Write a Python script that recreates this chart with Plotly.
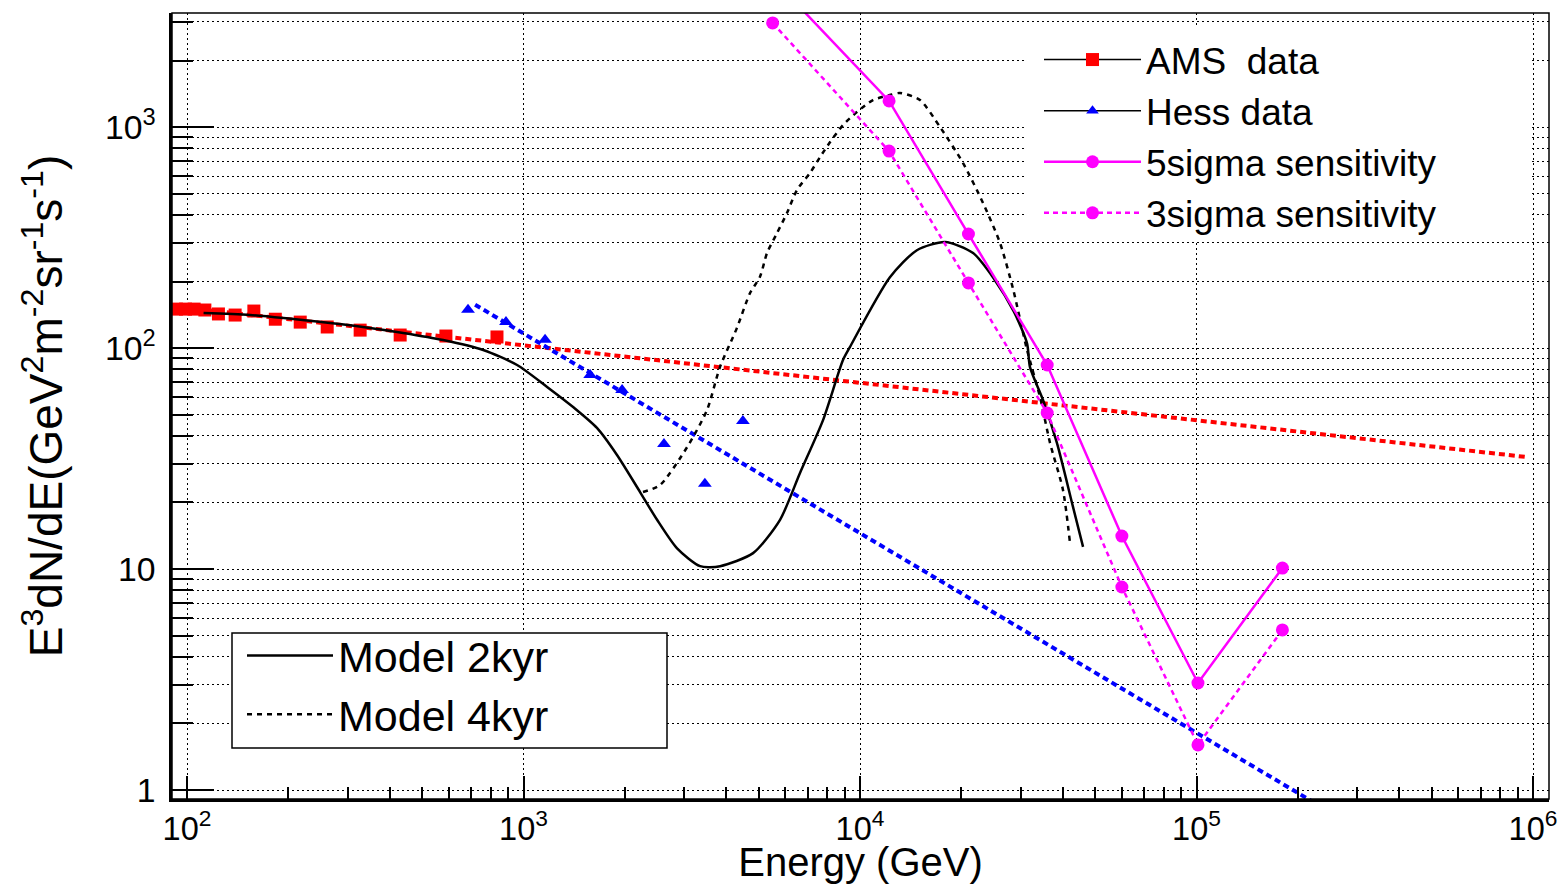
import plotly.graph_objects as go

# ---------------- data ----------------
ams_E = [93, 99, 105, 113, 124, 139, 158, 183, 217, 261, 327, 430, 588, 834]
ams_v = [150, 150, 150, 148.6, 142.6, 141, 147, 135, 131, 124.5, 120.5, 114.5, 113.3, 112.2]

hess_E = [684, 887, 1159, 1578, 1963, 2615, 3459, 4487]
hess_v = [149, 131, 109, 75.5, 64.6, 36.8, 24.3, 46.8]

ams_fit_E = [100, 9.6e5]
ams_fit_v = [152, 32.1]

hess_fit_E = [718, 2.3e5]
hess_fit_v = [157, 0.855]

model2_E = [112, 154, 266, 333, 439, 577, 759, 957, 1175, 1404, 1653, 1896, 2220, 2494,
            2860, 3348, 3840, 4811, 5785, 6632, 7765, 8900, 9330, 12270, 14760,
            17900, 21680, 25000, 28690, 31360, 32000, 34980, 38470, 42950, 46010]
model2_v = [143.9, 141, 129.7, 124.5, 117, 108.7, 98, 83.8, 66.7, 54.1, 43.5, 32.8, 22.3, 16.7,
            12.4, 10.3, 10.3, 11.8, 16.7, 27.2, 47.2, 88.3, 101, 209, 277,
            302, 269, 206, 145.6, 105, 82, 58.2, 37.2, 19.1, 12.6]

model4_E = [2265, 2546, 3063, 3510, 3835, 4305, 4709, 5043, 5292, 5666, 6066, 6497, 7104,
            7606, 8150, 8900, 9790, 10930, 12270, 13140, 15070, 17290, 20240, 23210, 26080,
            28500, 31360, 34270, 36700, 40100, 42080]
model4_v = [22.3, 24, 35.6, 52.4, 82, 123, 177, 210, 269, 331, 408, 519, 620,
            731, 855, 1021, 1169, 1325, 1396, 1426, 1325, 1000, 687, 453, 298,
            185, 98, 60, 37.2, 22.8, 13.1]

sens_E = [5500, 12200, 21000, 36000, 60000, 101000, 180000]
sens5_v = [4700, 1312, 328, 83.8, 14.1, 3.05, 10.1]
sens3_v = [2958, 778, 197, 50.8, 8.29, 1.60, 5.30]

legend_names = ["AMS  data", "Hess data", "5sigma sensitivity", "3sigma sensitivity",
                "Model 2kyr", "Model 4kyr"]
x_title = "Energy (GeV)"
y_title = "E<sup>3</sup>dN/dE(GeV<sup>2</sup>m<sup>-2</sup>sr<sup>-1</sup>s<sup>-1</sup>)"

# ---------------- figure ----------------
RED = "#ff0000"
BLUE = "#0000ff"
MAG = "#ff00ff"
FONT = "Liberation Sans, Arial, Helvetica, sans-serif"

fig = go.Figure()

fig.add_trace(go.Scatter(x=ams_fit_E, y=ams_fit_v, mode="lines",
                         line=dict(color=RED, width=4, dash="6px,4px"), showlegend=False))
fig.add_trace(go.Scatter(x=hess_fit_E, y=hess_fit_v, mode="lines",
                         line=dict(color=BLUE, width=4, dash="6px,4px"), showlegend=False))
fig.add_trace(go.Scatter(x=ams_E, y=ams_v, mode="markers",
                         marker=dict(symbol="square", color=RED, size=13), showlegend=False))
fig.add_trace(go.Scatter(x=hess_E, y=hess_v, mode="markers",
                         marker=dict(symbol="triangle-up", color=BLUE, size=12), showlegend=False))

# legend proxies (black line + coloured marker, as in the reference legend)
fig.add_trace(go.Scatter(x=[None], y=[None], mode="lines+markers", name=legend_names[0],
                         line=dict(color="black", width=1.5),
                         marker=dict(symbol="square", color=RED, size=13), legend="legend"))
fig.add_trace(go.Scatter(x=[None], y=[None], mode="lines+markers", name=legend_names[1],
                         line=dict(color="black", width=1.5),
                         marker=dict(symbol="triangle-up", color=BLUE, size=11), legend="legend"))

fig.add_trace(go.Scatter(x=model2_E, y=model2_v, mode="lines", name=legend_names[4],
                         line=dict(color="black", width=2.5, shape="spline", smoothing=0.7),
                         legend="legend2"))
fig.add_trace(go.Scatter(x=model4_E, y=model4_v, mode="lines", name=legend_names[5],
                         line=dict(color="black", width=2.5, dash="5px,5px", shape="spline",
                                   smoothing=0.7),
                         legend="legend2"))

fig.add_trace(go.Scatter(x=sens_E, y=sens5_v, mode="lines+markers", name=legend_names[2],
                         line=dict(color=MAG, width=2.5),
                         marker=dict(symbol="circle", color=MAG, size=13), legend="legend"))
fig.add_trace(go.Scatter(x=sens_E, y=sens3_v, mode="lines+markers", name=legend_names[3],
                         line=dict(color=MAG, width=2.5, dash="5px,4px"),
                         marker=dict(symbol="circle", color=MAG, size=13), legend="legend"))

grid = dict(gridcolor="#000000", gridwidth=1, griddash="2px,3px")

fig.update_xaxes(
    type="log", range=[1.9554, 6.0475], dtick=1, exponentformat="power",
    showline=True, linecolor="black", linewidth=3,
    ticks="inside", ticklen=23, tickwidth=2, tickcolor="black",
    ticklabelstandoff=0, ticklabeloverflow="allow",
    tickfont=dict(size=26, color="black", family=FONT),
    showgrid=True, **grid,
    minor=dict(dtick="D1", ticks="inside", ticklen=12, tickwidth=1.5, tickcolor="black",
               showgrid=False),
    title=dict(text=x_title, font=dict(size=40, color="black", family=FONT), standoff=11),
    zeroline=False,
)
fig.update_yaxes(
    type="log", range=[-0.0407, 3.516], dtick=1, exponentformat="power",
    showline=True, linecolor="black", linewidth=3,
    ticks="inside", ticklen=42, tickwidth=2, tickcolor="black",
    ticklabelstandoff=8,
    tickfont=dict(size=27, color="black", family=FONT),
    showgrid=True, **grid,
    minor=dict(dtick="D1", ticks="inside", ticklen=21, tickwidth=1.5, tickcolor="black",
               showgrid=True, gridcolor="#000000", gridwidth=1, griddash="2px,3px"),
    title=dict(text=y_title, font=dict(size=46, color="black", family=FONT), standoff=28),
    zeroline=False,
)

PX_L, PX_T, PLOT_W, PLOT_H = 172, 13, 1377, 786


def px_x(px):
    return (px - PX_L) / PLOT_W


def px_y(py):
    return 1 - (py - PX_T) / PLOT_H


fig.update_layout(
    width=1558, height=884,
    margin=dict(l=172, r=9, t=13, b=85, autoexpand=False),
    paper_bgcolor="white", plot_bgcolor="white",
    font=dict(family=FONT, color="black"),
    legend=dict(x=px_x(1039), y=px_y(29), xanchor="left", yanchor="top",
                bgcolor="rgba(0,0,0,0)", borderwidth=0, itemwidth=97,
                font=dict(size=37, family=FONT, color="black"),
                traceorder="normal"),
    legend2=dict(x=px_x(242), y=px_y(621), xanchor="left", yanchor="top",
                 bgcolor="rgba(0,0,0,0)", borderwidth=0, itemwidth=86,
                 font=dict(size=43, family=FONT, color="black")),
    shapes=[
        # white area behind the upper legend
        dict(type="rect", xref="paper", yref="paper",
             x0=px_x(1025), x1=px_x(1532), y0=px_y(240), y1=px_y(26),
             fillcolor="white", line=dict(width=0), layer="above"),
        # framed box behind the lower legend
        dict(type="rect", xref="paper", yref="paper",
             x0=px_x(232), x1=px_x(667), y0=px_y(748), y1=px_y(633),
             fillcolor="white", line=dict(color="black", width=1.5), layer="above"),
        # thin frame around the plot
        dict(type="rect", xref="paper", yref="paper", x0=0, x1=1, y0=0, y1=1,
             line=dict(color="black", width=1.5), layer="above"),
    ],
)

fig.write_html("out.html")
